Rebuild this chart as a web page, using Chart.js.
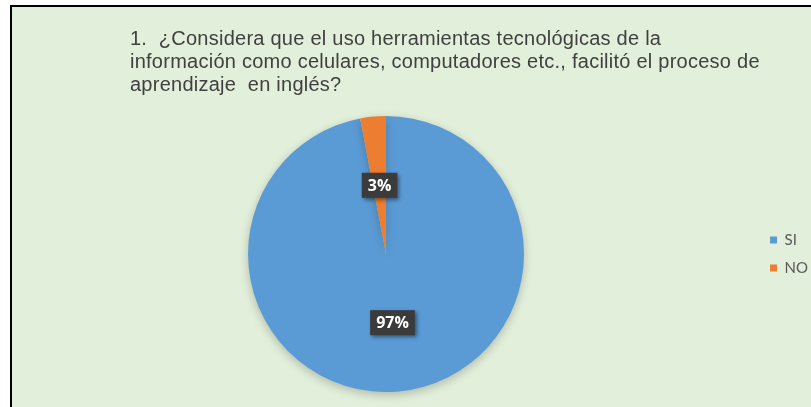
<!DOCTYPE html>
<html>
<head>
<meta charset="utf-8">
<script src="https://cdn.jsdelivr.net/npm/chart.js@4/dist/chart.umd.min.js"></script>
<style>
  html, body { margin: 0; padding: 0; background: #fff; }
  .frame {
    position: absolute; left: 10px; top: 5px;
    width: 801px; height: 402px;
    border-left: 2px solid #000; border-top: 2px solid #000;
    background: #e2efda;
  }
  .title {
    position: absolute; left: 130px; top: 27px;
    font-family: "Liberation Sans", Arial, sans-serif;
    font-size: 20px; line-height: 23px; letter-spacing: 0.25px; color: #404040;
    white-space: nowrap;
  }
  canvas { position: absolute; left: 0; top: 0; }
</style>
</head>
<body>
<div class="frame"><canvas id="chart" width="799" height="400"></canvas></div>
<div class="title">1.&nbsp; ¿Considera que el uso herramientas tecnológicas de la<br>información como celulares, computadores etc., facilitó el proceso de<br>aprendizaje&nbsp; en inglés?</div>
<script>
const categories = ["SI", "NO"];
const values = [97, 3];
const colors = ["#5b9bd5", "#ed7d31"];

// soft shadow under the pie
const pieShadow = {
  id: "pieShadow",
  beforeDatasetsDraw(chart) {
    const ctx = chart.ctx;
    ctx.save();
    ctx.shadowColor = "rgba(0,0,0,0.22)";
    ctx.shadowBlur = 10;
    ctx.shadowOffsetY = 3;
  },
  afterDatasetsDraw(chart) {
    chart.ctx.restore();
  },
};

// dark boxed percentage labels
const boxLabels = {
  id: "boxLabels",
  afterDraw(chart) {
    const ctx = chart.ctx;
    const total = values.reduce((a, b) => a + b, 0);
    chart.getDatasetMeta(0).data.forEach((arc, i) => {
      const p = arc.tooltipPosition();
      const txt = Math.round((values[i] / total) * 100) + "%";
      ctx.save();
      ctx.font = "bold 16px 'Open Sans', Lato, sans-serif";
      const w = ctx.measureText(txt).width + 12;
      const h = 25;
      ctx.shadowColor = "rgba(0,0,0,0.45)";
      ctx.shadowBlur = 4;
      ctx.shadowOffsetX = 2;
      ctx.shadowOffsetY = 2;
      ctx.fillStyle = "#3b3b3b";
      ctx.fillRect(p.x - w / 2, p.y - h / 2, w, h);
      ctx.shadowColor = "transparent";
      ctx.fillStyle = "#ffffff";
      ctx.textAlign = "center";
      ctx.textBaseline = "middle";
      ctx.fillText(txt, p.x, p.y + 1);
      ctx.restore();
    });
  },
};

const ctx = document.getElementById("chart").getContext("2d");
new Chart(ctx, {
  type: "pie",
  data: {
    labels: categories,
    datasets: [{
      data: values,
      backgroundColor: colors,
      borderWidth: 0,
    }],
  },
  options: {
    responsive: false,
    animation: false,
    layout: { padding: { top: 109, bottom: 15, left: 3, right: -7 } },
    plugins: {
      legend: {
        position: "right",
        labels: {
          boxWidth: 7,
          boxHeight: 7,
          padding: 13,
          color: "#595959",
          font: { size: 15, family: "Lato, 'Open Sans', sans-serif" },
        },
      },
      tooltip: { enabled: false },
    },
  },
  plugins: [pieShadow, boxLabels],
});
</script>
</body>
</html>
